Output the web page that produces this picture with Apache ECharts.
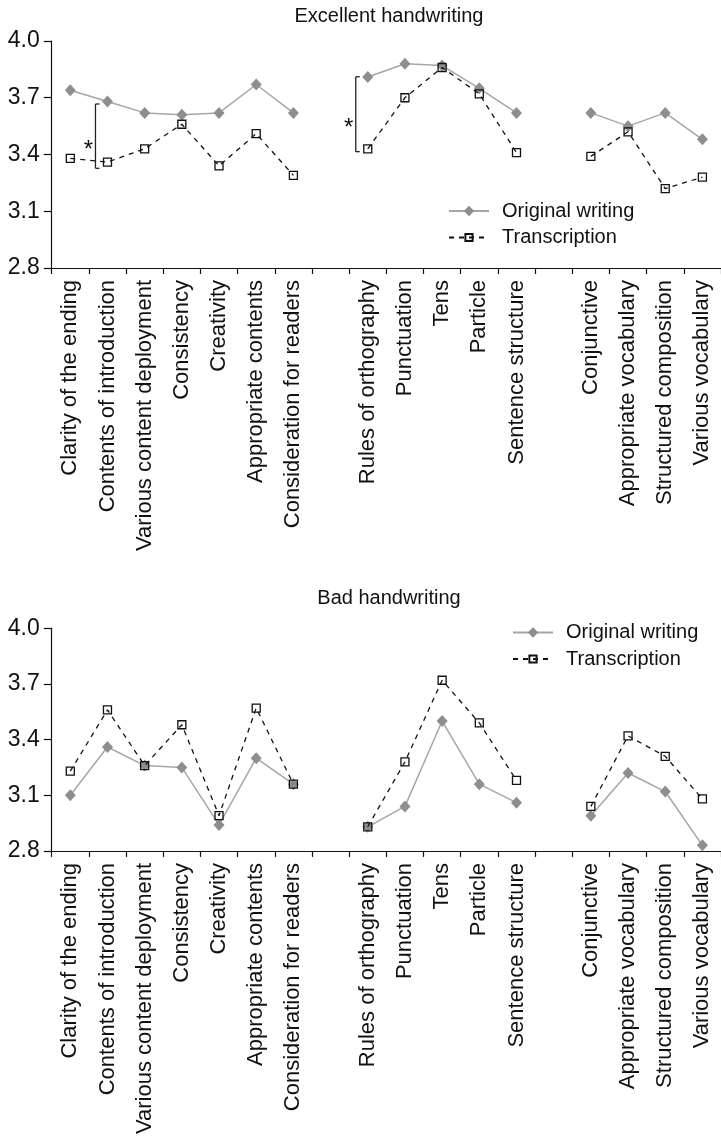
<!DOCTYPE html>
<html>
<head>
<meta charset="utf-8">
<script src="https://cdn.jsdelivr.net/npm/echarts@6/dist/echarts.min.js"></script>
<style>
html,body{margin:0;padding:0;background:#fff;}
#chart{width:721px;height:1137px;}
</style>
</head>
<body>
<div id="chart"></div>
<script>
// ---- data ----
var categories = ['Clarity of the ending', 'Contents of introduction', 'Various content deployment', 'Consistency', 'Creativity', 'Appropriate contents', 'Consideration for readers', '',
  'Rules of orthography', 'Punctuation', 'Tens', 'Particle', 'Sentence structure', '',
  'Conjunctive', 'Appropriate vocabulary', 'Structured composition', 'Various vocabulary'];
var yTicks = [2.8, 3.1, 3.4, 3.7, 4.0];
var titles = ['Excellent handwriting', 'Bad handwriting'];
var seriesNames = ['Original writing', 'Transcription'];
var excellentOriginal = [3.74, 3.68, 3.62, 3.61, 3.62, 3.77, 3.62, null, 3.81, 3.88, 3.87, 3.75, 3.62, null, 3.62, 3.55, 3.62, 3.48];
var excellentTranscription = [3.38, 3.36, 3.43, 3.56, 3.34, 3.51, 3.29, null, 3.43, 3.70, 3.86, 3.72, 3.41, null, 3.39, 3.52, 3.22, 3.28];
var badOriginal = [3.10, 3.36, 3.26, 3.25, 2.94, 3.30, 3.16, null, 2.93, 3.04, 3.50, 3.16, 3.06, null, 2.99, 3.22, 3.12, 2.83];
var badTranscription = [3.23, 3.56, 3.26, 3.48, 2.99, 3.57, 3.16, null, 2.93, 3.28, 3.72, 3.49, 3.18, null, 3.04, 3.42, 3.31, 3.08];
// significance brackets: [category index, upper value, lower value]
var sigBrackets = [[1, 3.667, 3.327], [8, 3.811, 3.415]];

// ---- chart ----
var FONT = '"Liberation Sans", Arial, sans-serif';
var chart = echarts.init(document.getElementById('chart'), null, {renderer: 'canvas'});

function xAxisCfg(gi) {
  return {
    type: 'category', gridIndex: gi, data: categories, boundaryGap: true,
    axisLine: {lineStyle: {color: '#111', width: 1.2}},
    axisTick: {show: true, length: 6, inside: false, alignWithLabel: false, interval: 0, lineStyle: {color: '#111', width: 1.2}},
    axisLabel: {interval: 0, rotate: 90, margin: 12, color: '#111', fontSize: 22, fontFamily: FONT},
    splitLine: {show: false}
  };
}
function yAxisCfg(gi) {
  return {
    type: 'value', gridIndex: gi, min: yTicks[0], max: yTicks[yTicks.length - 1], interval: 0.3,
    axisLine: {show: true, lineStyle: {color: '#111', width: 1.2}},
    axisTick: {show: true, length: 8, lineStyle: {color: '#111', width: 1.2}},
    axisLabel: {margin: 12, color: '#111', fontSize: 23, fontFamily: FONT,
      formatter: function (v) { return v.toFixed(1); }},
    splitLine: {show: false}
  };
}
function origSeries(gi, data) {
  return {
    name: seriesNames[0], type: 'line', xAxisIndex: gi, yAxisIndex: gi, data: data,
    symbol: 'diamond', symbolSize: [11, 12], connectNulls: false,
    lineStyle: {color: '#a6a6a6', width: 1.5},
    itemStyle: {color: '#8e8e8e'},
    animation: false, z: 2
  };
}
function transSeries(gi, data) {
  return {
    name: seriesNames[1], type: 'line', xAxisIndex: gi, yAxisIndex: gi, data: data,
    symbol: 'rect', symbolSize: 8, connectNulls: false,
    lineStyle: {color: '#111', width: 1.3, type: [5, 5]},
    itemStyle: {color: 'rgba(255,255,255,0)', borderColor: '#111', borderWidth: 1.3},
    animation: false, z: 3
  };
}
function legendCfg(name, left, top, iconH) {
  return {
    data: [name], orient: 'vertical', left: left, top: top, padding: 0,
    itemWidth: 40, itemHeight: iconH,
    textStyle: {fontSize: 20, color: '#111', fontFamily: FONT, padding: [0, 0, 0, 8]}
  };
}

var option = {
  backgroundColor: '#fff',
  animation: false,
  title: [
    {text: titles[0], left: 389, top: 6, textAlign: 'center', padding: 0,
      textStyle: {fontSize: 20, fontWeight: 'normal', color: '#111', fontFamily: FONT}},
    {text: titles[1], left: 389, top: 588, textAlign: 'center', padding: 0,
      textStyle: {fontSize: 20, fontWeight: 'normal', color: '#111', fontFamily: FONT}}
  ],
  legend: [
    legendCfg(seriesNames[0], 448, 201, 13),
    legendCfg(seriesNames[1], 448, 227.5, 9),
    legendCfg(seriesNames[0], 512, 622.5, 13),
    legendCfg(seriesNames[1], 512, 649, 9)
  ],
  grid: [
    {left: 51.7, top: 41, width: 674, height: 227, containLabel: false},
    {left: 51.7, top: 628.3, width: 674, height: 227, containLabel: false}
  ],
  xAxis: [xAxisCfg(0), xAxisCfg(1)],
  yAxis: [yAxisCfg(0), yAxisCfg(1)],
  series: [
    origSeries(0, excellentOriginal),
    transSeries(0, excellentTranscription),
    origSeries(1, badOriginal),
    transSeries(1, badTranscription),
    {
      type: 'custom', xAxisIndex: 0, yAxisIndex: 0, data: sigBrackets, z: 4, silent: true,
      renderItem: function (params, api) {
        var top = api.coord([api.value(0), api.value(1)]);
        var bot = api.coord([api.value(0), api.value(2)]);
        var x = top[0] - 12;
        var st = {stroke: '#222', lineWidth: 1.3, fill: null};
        return {
          type: 'group',
          children: [
            {type: 'line', shape: {x1: x, y1: top[1], x2: x, y2: bot[1]}, style: st},
            {type: 'line', shape: {x1: x, y1: top[1], x2: x + 4, y2: top[1]}, style: st},
            {type: 'line', shape: {x1: x, y1: bot[1], x2: x + 4, y2: bot[1]}, style: st},
            {type: 'text', style: {text: '*', x: x - 7, y: (top[1] + bot[1]) / 2 + 14,
              align: 'center', verticalAlign: 'middle', fontSize: 24, fill: '#111', fontFamily: FONT}}
          ]
        };
      }
    }
  ]
};
chart.setOption(option);
</script>
</body>
</html>
